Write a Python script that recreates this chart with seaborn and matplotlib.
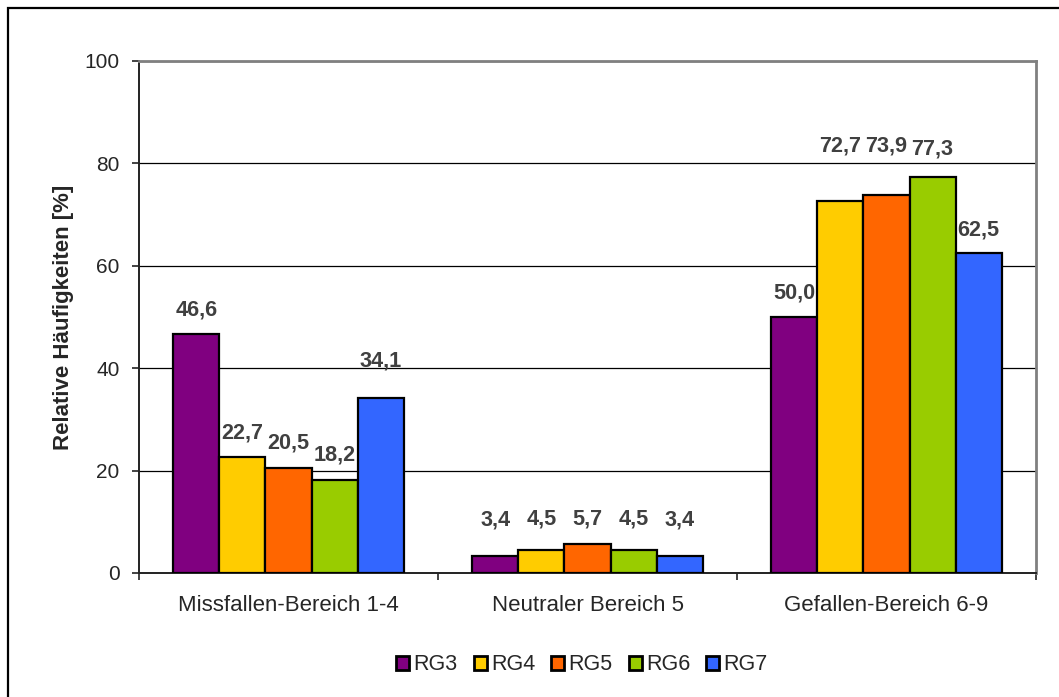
import matplotlib
matplotlib.use("Agg")
import matplotlib.pyplot as plt
import matplotlib.patches as mpatches
import numpy as np
import pandas as pd
import seaborn as sns

# Data
categories = ["Missfallen-Bereich 1-4", "Neutraler Bereich 5", "Gefallen-Bereich 6-9"]
groups = ["RG3", "RG4", "RG5", "RG6", "RG7"]
rg3 = [46.6, 3.4, 50.0]
rg4 = [22.7, 4.5, 72.7]
rg5 = [20.5, 5.7, 73.9]
rg6 = [18.2, 4.5, 77.3]
rg7 = [34.1, 3.4, 62.5]
y_ticks = [0, 20, 40, 60, 80, 100]

colors = ["#800080", "#FFCC00", "#FF6600", "#99CC00", "#3366FF"]

# extra lift (pixels) of individual value labels, to keep them clear of neighbours
label_lift = {
    "RG3": [0, 12, 0],
    "RG4": [0, 7, 31],
    "RG5": [1, 1, 25],
    "RG6": [1, 7, 4],
    "RG7": [13, 12, -1],
}

series = {"RG3": rg3, "RG4": rg4, "RG5": rg5, "RG6": rg6, "RG7": rg7}
rows = []
for g in groups:
    for c, v in zip(categories, series[g]):
        rows.append({"Bereich": c, "Gruppe": g, "Wert": v})
df = pd.DataFrame(rows)

sns.set_theme(style="white")
plt.rcParams["font.family"] = ["Liberation Sans", "DejaVu Sans"]

W, H = 1059, 697
fig = plt.figure(figsize=(W / 100, H / 100), dpi=100)
ax = fig.add_axes([139 / W, (H - 573) / H, (1036 - 139) / W, (573 - 61) / H])

sns.barplot(
    data=df, x="Bereich", y="Wert", hue="Gruppe",
    order=categories, hue_order=groups, palette=colors,
    width=0.77, edgecolor="black", linewidth=1.6, saturation=1,
    errorbar=None, ax=ax, zorder=3,
)

ax.set_xlim(-0.5, 2.5)
ax.set_ylim(0, 100)
ax.set_yticks(y_ticks)
ax.set_yticklabels([str(t) for t in y_ticks], fontsize=15)
ax.yaxis.grid(True, color="black", linewidth=0.9, zorder=0)
ax.set_axisbelow(True)

# category ticks between the groups
ax.set_xticks([-0.5, 0.5, 1.5, 2.5], minor=True)
ax.tick_params(axis="x", which="major", length=0, pad=16, labelsize=16)
ax.tick_params(axis="x", which="minor", length=5, width=1.2, color="#222222", direction="out", bottom=True)
ax.tick_params(axis="y", which="major", length=5, width=1.2, color="#222222", direction="out", left=True, pad=9)

ax.set_xlabel("")
ax.set_ylabel("Relative Häufigkeiten [%]", fontsize=16, fontweight="bold")
ax.yaxis.set_label_coords(-0.073, 0.5)

for side in ["left", "bottom"]:
    ax.spines[side].set_color("#222222")
    ax.spines[side].set_linewidth(1.4)
for side in ["top", "right"]:
    ax.spines[side].set_color("#808080")
    ax.spines[side].set_linewidth(2.0)

# value labels
for g, cont in zip(groups, ax.containers):
    for i, bar in enumerate(cont):
        v = series[g][i]
        x = bar.get_x() + bar.get_width() / 2
        ax.annotate(
            f"{v:.1f}".replace(".", ","),
            xy=(x, bar.get_height()), xytext=(0, 24 + label_lift[g][i]),
            textcoords="offset pixels", ha="center", va="center",
            fontsize=15.6, fontweight="bold", color="#404040", zorder=5,
        )

# legend below the plot
handles, labels = ax.get_legend_handles_labels()
ax.get_legend().remove()
for h in handles:
    h.set_edgecolor("black")
    h.set_linewidth(2.0)
fig.legend(
    handles, labels, loc="center", bbox_to_anchor=(582 / W, 1 - 665 / H),
    ncol=5, frameon=False, fontsize=15.5, handlelength=0.6, handleheight=0.6,
    handletextpad=0.2, columnspacing=0.75, borderaxespad=0,
)

# outer frame
frame = mpatches.Rectangle(
    (8 / W, -0.1), 1.2, 1 - 8 / H + 0.1, transform=fig.transFigure,
    fill=False, edgecolor="black", linewidth=1.6, clip_on=False,
)
fig.patches.append(frame)

fig.savefig("out.png", dpi=100, facecolor="white")
